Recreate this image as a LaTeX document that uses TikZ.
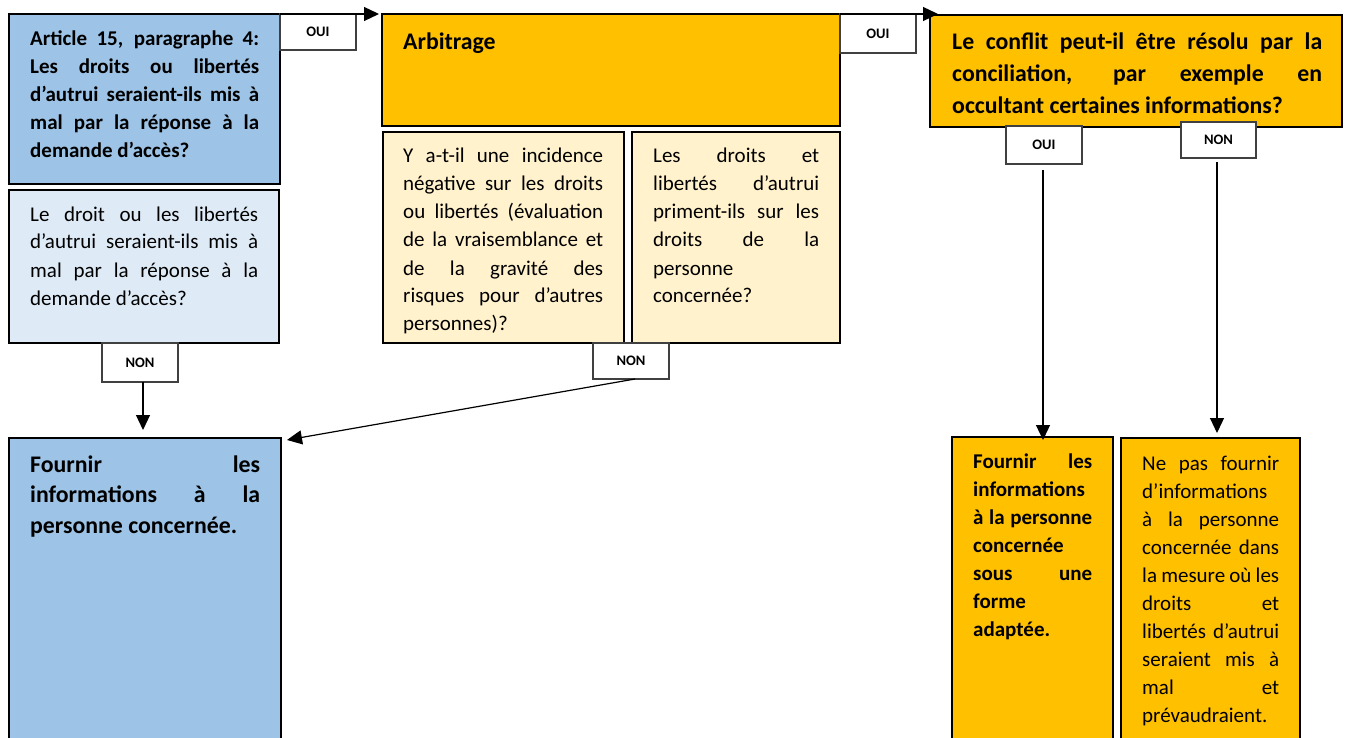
\documentclass[tikz,border=0pt]{standalone}
\usepackage{fontspec}
\setmainfont{Carlito}
\usetikzlibrary{arrows.meta,positioning}

\definecolor{boxblue}{HTML}{9DC3E6}
\definecolor{paleblue}{HTML}{DEEBF7}
\definecolor{boxorange}{HTML}{FFC000}
\definecolor{paleorange}{HTML}{FFF2CC}

\newcommand{\smalltext}{\fontsize{21}{28}\selectfont}
\newcommand{\bigtext}{\fontsize{23.8}{31}\selectfont}
\newcommand{\labeltext}{\fontsize{14.5}{16}\selectfont\bfseries}

\begin{document}
\begin{tikzpicture}[x=1pt, y=-1pt,
  flow box/.style={rectangle, draw, line width=2pt, anchor=north west, inner sep=0pt, outer sep=0pt},
  answer node/.style={rectangle, draw=black!75, line width=1.2pt, fill=white, anchor=north west, inner sep=0pt, outer sep=0pt, font=\labeltext},
  box text/.style={anchor=base west, inner sep=0pt, align=justify, execute at begin node={\tolerance=10000 \hbadness=10000 \hyphenpenalty=10000 \exhyphenpenalty=10000}},
  flow arrow/.style={draw, line width=1.2pt, -{Triangle[length=15pt, width=14pt]}}]
\useasboundingbox (0,0) rectangle (1348,738);

% column 1
\node[flow box, fill=boxblue, minimum width=271pt, minimum height=170pt] (boxA) at (9,14) {};
\node[box text, font=\smalltext\bfseries, text width=229pt] (tA) at (30,45.5)
  {Article 15, paragraphe 4: \linebreak Les droits ou libertés \linebreak d’autrui seraient-ils mis à \linebreak mal par la réponse à la \linebreak demande d’accès?};

\node[flow box, fill=paleblue, minimum width=270pt, minimum height=153pt] (boxA2) at (9,190) {};
\node[box text, font=\smalltext, text width=228pt] (tA2) at (30,221)
  {Le droit ou les libertés \linebreak d’autrui seraient-ils mis à \linebreak mal par la réponse à la \linebreak demande d’accès?};

\node[flow box, fill=boxblue, minimum width=272pt, minimum height=320pt] (boxD) at (9,438) {};
\node[box text, font=\bigtext\bfseries, text width=230pt, execute at begin node={\baselineskip=30.5pt}] (tD) at (30,472)
  {Fournir les \linebreak informations à la \linebreak personne concernée.};

% column 2
\node[flow box, fill=boxorange, minimum width=458pt, minimum height=112pt] (boxB) at (382,14) {};
\node[box text, font=\bigtext\bfseries, text width=300pt] (tB) at (403,49.5) {Arbitrage};

\node[flow box, fill=paleorange, minimum width=241pt, minimum height=211pt] (boxB1) at (383,132) {};
\begin{scope}
\clip (383,132) rectangle (624,334);
\node[box text, font=\smalltext, text width=200pt] (tB1) at (403,163)
  {Y a-t-il une incidence \linebreak négative sur les droits \linebreak ou libertés (évaluation \linebreak de la vraisemblance et \linebreak de la gravité des \linebreak risques pour d’autres \linebreak personnes)?};
\end{scope}

\node[flow box, fill=paleorange, minimum width=208pt, minimum height=211pt] (boxB2) at (632,132) {};
\node[box text, font=\smalltext, text width=166pt] (tB2) at (653,163)
  {Les droits et \linebreak libertés d’autrui \linebreak priment-ils sur les \linebreak droits de la \linebreak personne \linebreak concernée?};

% column 3
\node[flow box, fill=boxorange, minimum width=412pt, minimum height=112pt] (boxC) at (930,15) {};
\node[box text, font=\bigtext\bfseries, text width=370pt, execute at begin node={\baselineskip=31.6pt}] (tC) at (952,50)
  {Le conflit peut-il être résolu par la \linebreak conciliation, par exemple en \linebreak occultant certaines informations?};

\node[flow box, fill=boxorange, minimum width=161pt, minimum height=320pt] (boxE) at (952,437) {};
\node[box text, font=\smalltext\bfseries, text width=119pt] (tE) at (973,468)
  {Fournir les \linebreak informations \linebreak à la personne \linebreak concernée \linebreak sous une \linebreak forme \linebreak adaptée.};

\node[flow box, fill=boxorange, minimum width=179pt, minimum height=320pt] (boxF) at (1121,438) {};
\node[box text, font=\smalltext, text width=137pt] (tF) at (1142,470)
  {Ne pas fournir \linebreak d’informations \linebreak à la personne \linebreak concernée dans \linebreak la mesure où les \linebreak droits et \linebreak libertés d’autrui \linebreak seraient mis à \linebreak mal et \linebreak prévaudraient.};

% answers
\node[answer node, minimum width=76pt, minimum height=36pt] (ouiA) at (280,14) {OUI};
\node[answer node, minimum width=76pt, minimum height=39pt] (ouiB) at (840,14) {OUI};
\node[answer node, minimum width=76pt, minimum height=39pt] (nonA) at (102,343) {NON};
\node[answer node, minimum width=76pt, minimum height=36pt] (nonB) at (593,343) {NON};
\node[answer node, minimum width=76pt, minimum height=38pt] (ouiC) at (1006,126) {OUI};
\node[answer node, minimum width=75pt, minimum height=36pt] (nonC) at (1181,122) {NON};

\coordinate (toC) at (938,14);
\coordinate (toD) at (287,440);

\path
% oui -> next question
(boxA.north east) edge [flow arrow, shorten >=3pt] (boxB.north west)
(boxB.north east) edge [flow arrow] (toC)
% non -> fournir
([xshift=3pt]nonA.south) edge [flow arrow, shorten >=8pt] ([xshift=3pt]nonA.south |- boxD.north)
([xshift=4pt]nonB.south) edge [flow arrow] (toD)
% conciliation
([xshift=-1pt]ouiC.south) edge [flow arrow, shorten <=6pt, shorten >=-3pt] ([xshift=-1pt]ouiC.south |- boxE.north)
([xshift=-1.5pt]nonC.south) edge [flow arrow, shorten <=4pt, shorten >=5pt] ([xshift=-1.5pt]nonC.south |- boxF.north)
;

\end{tikzpicture}
\end{document}
